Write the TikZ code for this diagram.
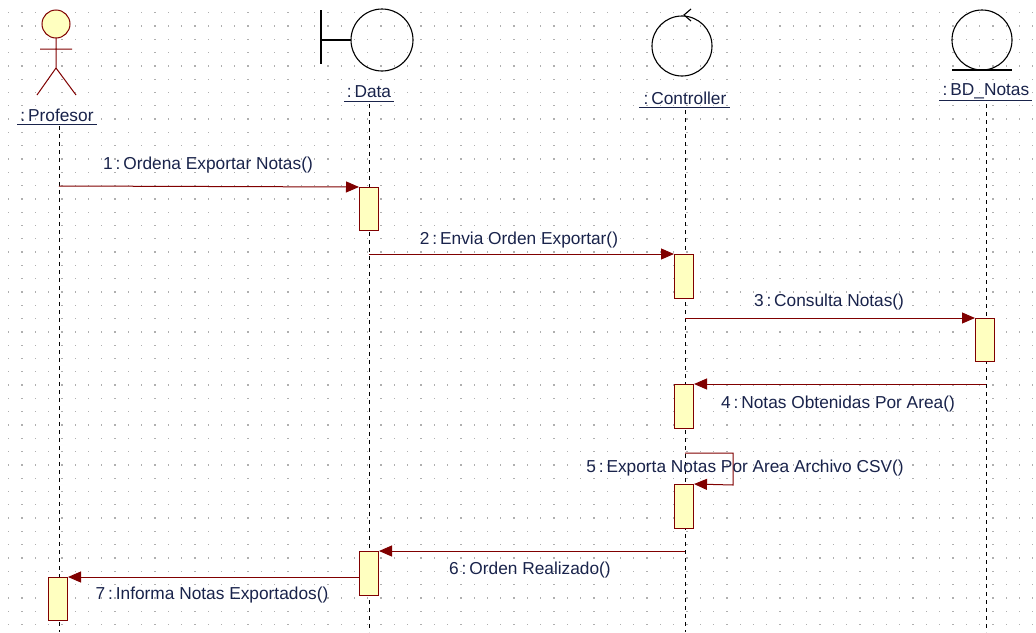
\documentclass[tikz,border=0pt]{standalone}
\usepackage{fontspec}
\setmainfont{Liberation Sans}
\usetikzlibrary{arrows.meta}
\definecolor{mred}{RGB}{128,0,0}
\definecolor{bfill}{RGB}{255,255,192}
\definecolor{txt}{RGB}{25,35,75}
\definecolor{dotc}{RGB}{175,175,175}
\begin{document}
\begin{tikzpicture}[x=1pt,y=-1pt,
  lbl/.style={text=txt,font=\fontsize{17.3}{19}\selectfont,inner sep=0pt},
  life/.style={draw=black,line width=0.9pt,dash pattern=on 4pt off 4pt},
  bar/.style={draw=mred,fill=bfill,line width=1pt,minimum width=19pt,inner sep=0pt,anchor=north},
  msg/.style={draw=mred,line width=1pt,-{Triangle[length=13pt,width=11pt]}},
  shp/.style={draw=black,line width=1.1pt}]
\useasboundingbox (0,0) rectangle (1036,632);
\fill[white] (0,0) rectangle (1036,632);
% dot grid
\foreach \i in {0,...,77}{\foreach \j in {0,...,47}{
  \fill[dotc] (8+13.3*\i,12+13.3*\j) rectangle ++(1.3,1.3);}}
% Profesor actor
\draw[draw=mred,fill=bfill,line width=1pt] (56,24) circle[radius=14];
\draw[mred,line width=1pt] (56,38) -- (56,68) (40,49) -- (72,49) (37,95) -- (56,68) -- (76,95);
\node[lbl] (prof) at (57,115) {:\,Profesor};
\draw[txt,line width=0.8pt] (17,124) -- (97,124);
% Data boundary
\draw[shp] (321,10) -- (321,64) (321,40) -- (351,40);
\draw[shp] (382,40) circle[radius=31];
\node[lbl] (data) at (369,92) {:\,Data};
\draw[txt,line width=0.8pt] (344,101) -- (394,101);
% Controller
\draw[shp] (682,46) circle[radius=30];
\draw[shp] (691,9) -- (684,15) -- (691,21);
\node[lbl] (ctrl) at (685,98) {:\,Controller};
\draw[txt,line width=0.8pt] (639,107) -- (730,107);
% BD Notas
\draw[shp] (982,40) circle[radius=30];
\draw[shp] (952,70) -- (1012,70);
\node[lbl] (bd) at (986,91) {:\,BD\_Notas};
\draw[txt,line width=0.8pt] (939,100) -- (1032,100);
% lifelines
\coordinate (pT) at (59,126); \coordinate (pB) at (59,632);
\coordinate (dT) at (369,104); \coordinate (dB) at (369,632);
\coordinate (cT) at (685,110); \coordinate (cB) at (685,632);
\coordinate (bT) at (986,104); \coordinate (bB) at (986,632);
\draw[life] (pT) -- (pB);
\draw[life] (dT) -- (dB);
\draw[life] (cT) -- (cB);
\draw[life] (bT) -- (bB);
% activation bars
\node[bar,minimum height=43pt] (a1) at (369,187) {};
\node[bar,minimum height=44pt] (a2) at (684,254) {};
\node[bar,minimum height=43pt] (a3) at (985,318) {};
\node[bar,minimum height=44pt] (a4) at (684,384) {};
\node[bar,minimum height=44pt] (a5) at (684,484) {};
\node[bar,minimum height=44pt] (a6) at (369,551) {};
\node[bar,minimum height=43pt] (a7) at (58,577) {};
% message endpoints
\coordinate (m1s) at (59,186);
\coordinate (m2s) at (369,254);
\coordinate (m3s) at (685,318);
\coordinate (m4s) at (986,384);
\coordinate (m5s) at (685,453);
\coordinate (m5a) at (733,453);
\coordinate (m5b) at (733,485);
\coordinate (m6s) at (685,551);
\draw[msg] (m1s) -- (a1.north west);
\draw[msg] (m2s) -- (a2.north west);
\draw[msg] (m3s) -- (a3.north west);
\draw[msg] (m4s) -- (a4.north east);
\draw[msg] (m5s) -- (m5a) -- (m5b) -- (a5.north east);
\draw[msg] (m6s) -- (a6.north east);
\draw[msg] (a6.north west |- 0,577) -- (a7.north east);
% labels
\node[lbl] (l1) at (208,165) {1\,:\,Ordena Exportar Notas()};
\node[lbl] (l2) at (519,240) {2\,:\,Envia Orden Exportar()};
\node[lbl] (l3) at (829,302) {3\,:\,Consulta Notas()};
\node[lbl] (l4) at (838,404) {4\,:\,Notas Obtenidas Por Area()};
\node[lbl] (l5) at (745,468) {5\,:\,Exporta Notas Por Area Archivo CSV()};
\node[lbl] (l6) at (530,570) {6\,:\,Orden Realizado()};
\node[lbl] (l7) at (212,595) {7\,:\,Informa Notas Exportados()};
\end{tikzpicture}
\end{document}
